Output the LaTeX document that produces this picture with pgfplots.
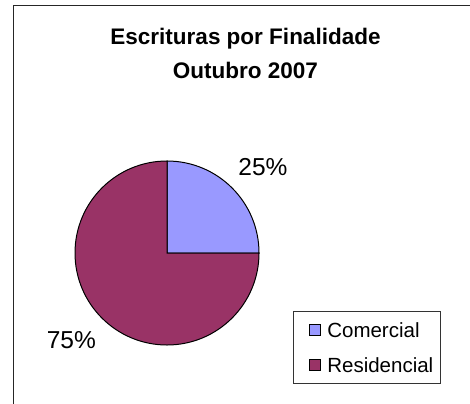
\documentclass[border=0pt]{standalone}
\usepackage{fontspec}
\setmainfont{Liberation Sans}
\usepackage{pgfplots}
\usepackage{pgfplotstable}
\pgfplotsset{compat=1.18}
\definecolor{comercial}{HTML}{9999FF}
\definecolor{residencial}{HTML}{993366}
\pgfplotstableread{
cat value
Comercial 25
Residencial 75
}\piedata
\begin{document}
\begin{tikzpicture}[x=1bp,y=1bp]
\useasboundingbox (0,0) rectangle (470,403);
\draw[line width=1bp, black!85] (13,-2) -- (13,397) -- (472,397);
\node[font=\bfseries\fontsize{22.5bp}{27bp}\selectfont, anchor=base] at (245.5,359) {Escrituras por Finalidade};
\node[font=\bfseries\fontsize{22.5bp}{27bp}\selectfont, anchor=base] at (245.5,325) {Outubro 2007};
\pgfplotstablegetelem{0}{value}\of\piedata \let\vA\pgfplotsretval
\pgfplotstablegetelem{1}{value}\of\piedata \let\vB\pgfplotsretval
\pgfmathsetmacro\total{\vA+\vB}
\pgfmathsetmacro\angA{90-360*(\vA/\total)}
\pgfmathsetmacro\angB{\angA-360*(\vB/\total)}
\pgfmathsetmacro\cA{cos(\angA)}
\pgfmathsetmacro\sA{sin(\angA)}
\begin{axis}[at={(75bp,58bp)}, anchor=south west, x=92bp, y=92bp,
  xmin=-1, xmax=1, ymin=-1, ymax=1, hide axis, clip=false,
  legend image code/.code={\path (0bp,0bp); \draw[#1] (8bp,-5.5bp) rectangle (19bp,5.5bp);},
  legend cell align=left,
  legend style={at={(1.1848,0.1848)}, anchor=north west, draw=black!80, line width=1bp,
    font=\fontsize{20.5bp}{24bp}\selectfont, inner xsep=7bp, inner ysep=11bp,
    nodes={inner sep=0pt, text depth=0pt, text height=14.7bp},
    row sep=20.3bp, /tikz/every odd column/.append style={column sep=7bp}},
]
\addlegendimage{fill=comercial, draw=black, line width=0.8bp}
\addlegendentry{Comercial}
\addlegendimage{fill=residencial, draw=black, line width=0.8bp}
\addlegendentry{Residencial}
\filldraw[fill=comercial, draw=black, line width=1bp] (axis cs:0,0) -- (axis cs:0,1) arc[start angle=90, end angle=\angA, radius=92bp] -- cycle;
\filldraw[fill=residencial, draw=black, line width=1bp] (axis cs:0,0) -- (axis cs:\cA,\sA) arc[start angle=\angA, end angle=\angB, radius=92bp] -- cycle;
\node[font=\fontsize{24.5bp}{28bp}\selectfont] at (axis cs:1.043,0.935) {\vA\%};
\node[font=\fontsize{24.5bp}{28bp}\selectfont] at (axis cs:-1.04,-0.946) {\vB\%};
\end{axis}
\end{tikzpicture}
\end{document}
